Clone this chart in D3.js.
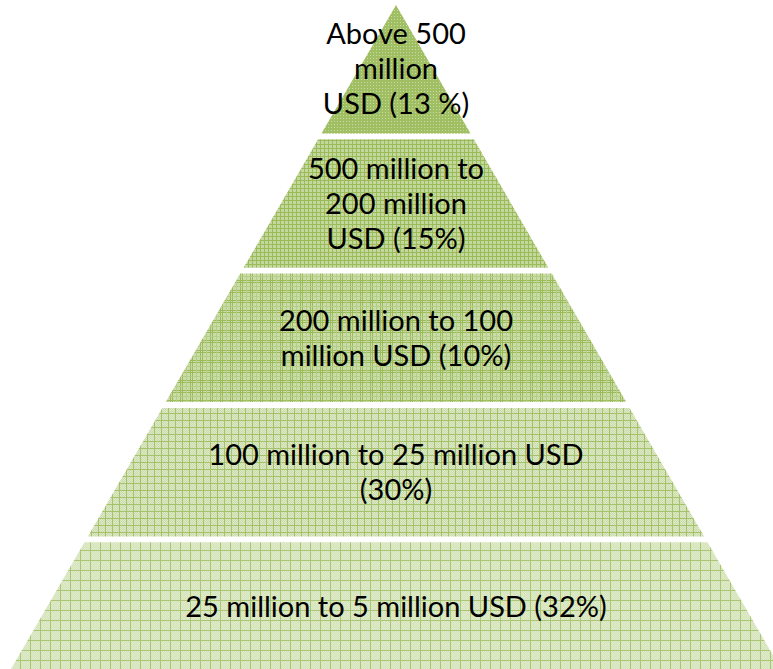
<!DOCTYPE html>
<html>
<head>
<meta charset="utf-8">
<script src="https://cdn.jsdelivr.net/npm/d3@7/dist/d3.min.js"></script>
<style>
  html, body { margin: 0; padding: 0; background: #ffffff; }
  svg { display: block; }
</style>
</head>
<body>
<div id="chart"></div>
<script>
// Tiers of the pyramid, top to bottom
const tiers = ["Above 500 million USD", "500 million to 200 million USD", "200 million to 100 million USD",
               "100 million to 25 million USD", "25 million to 5 million USD"];
const shares = [13, 15, 10, 30, 32];
// Label text as wrapped into lines inside each tier
const labelLines = [
  ["Above 500", "million", "USD (13 %)"],
  ["500 million to", "200 million", "USD (15%)"],
  ["200 million to 100", "million USD (10%)"],
  ["100 million to 25 million USD", "(30%)"],
  ["25 million to 5 million USD (32%)"]
];

const W = 773, H = 669;
const cx = 396;            // pyramid axis
const apexY = 5, baseY = 670.7;
const baseHalf = 386;      // half-width of the pyramid at baseY

const svg = d3.select("#chart").append("svg")
  .attr("width", W).attr("height", H);

// Pattern fills, one per tier
const defs = svg.append("defs");
const GREEN = "#9bbb59";

function pattern(id, size, build) {
  const p = defs.append("pattern").attr("id", id)
    .attr("patternUnits", "userSpaceOnUse")
    .attr("width", size).attr("height", size);
  build(p, size);
}
// tier 1: solid green with fine light dots
pattern("pt0", 3, (p, s) => {
  p.append("rect").attr("width", s).attr("height", s).attr("fill", "#a0be62");
  p.append("rect").attr("x", 1).attr("y", 1).attr("width", 1).attr("height", 1).attr("fill", "#c9dba6");
});
// tier 2: small grid
pattern("pt1", 4, (p, s) => {
  p.append("rect").attr("width", s).attr("height", s).attr("fill", "#c3d79e");
  p.append("rect").attr("width", 1).attr("height", s).attr("fill", GREEN);
  p.append("rect").attr("width", s).attr("height", 1).attr("fill", GREEN);
});
// tier 3: plaid with doubled lines
pattern("pt2", 10, (p, s) => {
  p.append("rect").attr("width", s).attr("height", s).attr("fill", "#cadcaa");
  [0, 2].forEach(o => {
    p.append("rect").attr("x", o).attr("width", 1).attr("height", s).attr("fill", GREEN);
    p.append("rect").attr("y", o).attr("width", s).attr("height", 1).attr("fill", GREEN);
  });
  p.append("rect").attr("x", 6).attr("width", 1).attr("height", s).attr("fill", "#b5cd85");
  p.append("rect").attr("y", 6).attr("width", s).attr("height", 1).attr("fill", "#b5cd85");
});
// tier 4: medium grid over a checker
pattern("pt3", 7, (p, s) => {
  p.append("rect").attr("width", s).attr("height", s).attr("fill", "#cadcaa");
  for (let i = 1; i < s; i++) for (let j = 1; j < s; j++)
    if ((i + j) % 2 === 0) p.append("rect").attr("x", i).attr("y", j).attr("width", 1).attr("height", 1).attr("fill", "#dde9c8");
  p.append("rect").attr("width", 1).attr("height", s).attr("fill", "#a5c26a");
  p.append("rect").attr("width", s).attr("height", 1).attr("fill", "#a5c26a");
});
// tier 5: large grid over a light checker
pattern("pt4", 10, (p, s) => {
  p.append("rect").attr("width", s).attr("height", s).attr("fill", "#d4e3b8");
  for (let i = 1; i < s; i++) for (let j = 1; j < s; j++)
    if ((i + j) % 2 === 0) p.append("rect").attr("x", i).attr("y", j).attr("width", 1).attr("height", 1).attr("fill", "#e0ebcd");
  p.append("rect").attr("width", 1).attr("height", s).attr("fill", "#abc673");
  p.append("rect").attr("width", s).attr("height", 1).attr("fill", "#abc673");
});

// Vertical bands for the tiers
const y = d3.scaleBand()
  .domain(d3.range(tiers.length))
  .range([apexY, baseY])
  .paddingInner(0.0432)
  .paddingOuter(0);

// Half-width of the pyramid as a function of height
const half = d3.scaleLinear().domain([apexY, baseY]).range([0, baseHalf]);

const tierG = svg.selectAll("g.tier")
  .data(tiers.map((t, i) => ({ tier: t, share: shares[i], lines: labelLines[i], i })))
  .join("g").attr("class", "tier");

tierG.append("path")
  .attr("d", d => {
    const t = y(d.i), b = y(d.i) + y.bandwidth();
    const ht = half(t), hb = half(b);
    return d3.line()([[cx - ht, t], [cx + ht, t], [cx + hb, b], [cx - hb, b]]) + "Z";
  })
  .attr("fill", d => `url(#pt${d.i})`);

const lineH = 35;
tierG.append("text")
  .attr("text-anchor", "middle")
  .attr("font-family", "Lato, 'Open Sans', sans-serif")
  .attr("font-size", 29)
  .attr("fill", "#000")
  .each(function (d) {
    const mid = y(d.i) + y.bandwidth() / 2;
    const first = mid - (d.lines.length - 1) * lineH / 2;
    d3.select(this).selectAll("tspan")
      .data(d.lines)
      .join("tspan")
      .attr("x", cx)
      .attr("y", (l, k) => first + k * lineH)
      .attr("dy", "0.35em")
      .text(l => l);
  });
</script>
</body>
</html>
